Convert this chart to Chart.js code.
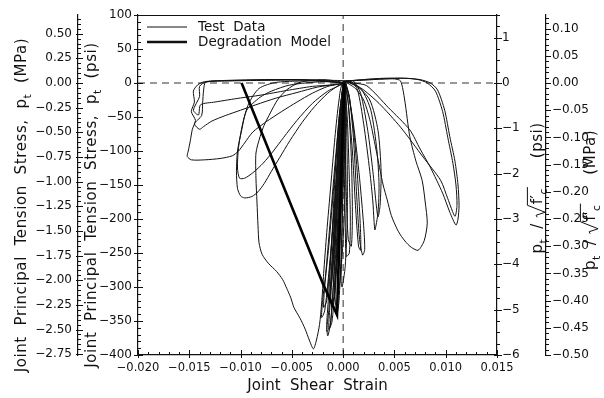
<!DOCTYPE html>
<html>
<head>
<meta charset="utf-8">
<script src="https://cdn.jsdelivr.net/npm/chart.js@4.4.0/dist/chart.umd.min.js"></script>
<style>
html,body{margin:0;padding:0;background:#fff;}
</style>
</head>
<body>
<canvas id="myChart" width="604" height="398"></canvas>
<script>
// axis ranges (psi and psi-based ratio on the main axes, SI on the outer ones)
const strainRange = [-0.020, 0.015];
const stressPsiRange = [-400, 100];
const stressMPaRange = [-2.7579, 0.6895];
const ratioPsiRange = [-6, 1.5];
const ratioMPaRange = [-0.50, 0.125];

// test data as [strain, stress psi]
const coreLoops = [
[-0.0001,-40],[-0.0002,-90],[-0.0004,-150],[-0.0002,-165],[0.0001,-120],[0.0002,-60],[0.0002,-10],[0.0001,2],
[-0.0002,-30],[-0.0004,-100],[-0.0006,-180],[-0.0008,-230],[-0.0005,-240],[-0.0002,-180],[0.0000,-100],[0.0002,-30],[0.0001,3],
[-0.0003,-40],[-0.0006,-120],[-0.0009,-210],[-0.0012,-290],[-0.0013,-320],[-0.0010,-325],[-0.0007,-270],[-0.0004,-180],[-0.0001,-80],[0.0001,-20],[0.0001,3],
[-0.0002,-50],[-0.0005,-130],[-0.0008,-220],[-0.0010,-280],[-0.0009,-300],[-0.0006,-260],[-0.0003,-170],[-0.0001,-80],[0.0001,2],
[-0.0004,-50],[-0.0008,-140],[-0.0011,-230],[-0.0014,-310],[-0.0016,-355],[-0.0015,-372],[-0.0012,-350],[-0.0009,-280],[-0.0006,-190],[-0.0003,-100],[0.0000,-30],[0.0001,2],
[0.0002,-60],[0.0002,-150],[0.0000,-230],[-0.0003,-290],[-0.0005,-310],[-0.0004,-270],[-0.0002,-180],[-0.0001,-90],[0.0001,3],
[-0.0003,-60],[-0.0007,-160],[-0.0010,-260],[-0.0013,-330],[-0.0014,-362],[-0.0011,-352],[-0.0008,-300],[-0.0005,-200],[-0.0002,-100],[0.0001,-20],[0.0002,3],
[0.0003,-40],[0.0004,-120],[0.0004,-200],[0.0002,-270],[-0.0001,-300],[-0.0002,-290],[-0.0001,-220],[0.0000,-120],[0.0001,-40],[0.0001,3],
[-0.0003,-70],[-0.0007,-170],[-0.0011,-270],[-0.0014,-335],[-0.0016,-365],[-0.0013,-360],[-0.0010,-310],[-0.0006,-220],[-0.0003,-120],[0.0000,-40],[0.0001,2],
[-0.0001,-50],[-0.0003,-150],[-0.0006,-250],[-0.0008,-310],[-0.0006,-340],[-0.0004,-320],[-0.0002,-250],[0.0000,-150],[0.0002,-60],[0.0002,2],
[0.0005,-30],[0.0008,-110],[0.0009,-190],[0.0008,-240],[0.0005,-230],[0.0003,-160],[0.0002,-80],[0.0001,2],
[0.0004,-50],[0.0006,-140],[0.0007,-200],[0.0006,-250],[0.0003,-255],[0.0002,-200],[0.0001,-120],[0.0001,-40],[0.0000,3],
[-0.0002,-60],[-0.0006,-170],[-0.0010,-270],[-0.0012,-310],[-0.0011,-330],[-0.0008,-310],[-0.0005,-230],[-0.0002,-130],[0.0000,-40],[0.0001,3],
[-0.0003,-40],[-0.0008,-120],[-0.0013,-210],[-0.0017,-280],[-0.0020,-320],[-0.0021,-345],[-0.0018,-335],[-0.0014,-280],[-0.0009,-190],[-0.0005,-100],[-0.0002,-30],[0.0000,2],
[-0.0001,-40],[-0.0004,-130],[-0.0007,-220],[-0.0009,-265],[-0.0007,-275],[-0.0004,-220],[-0.0001,-120],[0.0001,-30],[0.0001,2],
[-0.0004,-60],[-0.0009,-150],[-0.0014,-240],[-0.0018,-300],[-0.0019,-330],[-0.0016,-320],[-0.0012,-250],[-0.0007,-150],[-0.0003,-60],[0.0001,2]
];
const rightSmallLoops = [
[0.0004,-10],[0.0010,-60],[0.0016,-140],[0.0020,-210],[0.0021,-245],[0.0019,-253],[0.0016,-230],[0.0013,-160],[0.0010,-80],[0.0006,-20],[0.0002,2],
[0.0006,-20],[0.0011,-80],[0.0015,-160],[0.0017,-220],[0.0017,-246],[0.0015,-240],[0.0012,-180],[0.0009,-100],[0.0005,-30],[0.0002,3],
[0.0008,2],[0.0014,-10],[0.0020,-60],[0.0026,-130],[0.0029,-175],[0.0030,-200],[0.0031,-216],[0.0034,-190],[0.0035,-150],[0.0033,-100],[0.0027,-40],[0.0018,-10],[0.0005,2],
[0.0010,3],[0.0017,-15],[0.0024,-70],[0.0029,-130],[0.0032,-175],[0.0034,-197],[0.0036,-180],[0.0037,-130],[0.0034,-70],[0.0026,-25],[0.0012,-2],[0.0003,3]
];
const leftLoops = [
[-0.002,4],[-0.005,5],[-0.008,5],[-0.011,4],[-0.0135,2],[-0.0142,-3],[-0.0146,-12],[-0.0145,-28],[-0.0148,-42],[-0.0144,-55],[-0.0147,-68],[-0.0149,-85],[-0.0151,-100],[-0.0152,-108],[-0.0148,-113],[-0.0135,-113],[-0.0120,-111],[-0.0108,-107],[-0.0102,-100],[-0.0096,-88],[-0.0088,-72],[-0.0075,-57],[-0.0060,-42],[-0.0045,-28],[-0.0030,-15],[-0.0015,-5],[0,0],
[-0.003,4],[-0.007,4],[-0.011,3],[-0.0134,1],[-0.0136,-10],[-0.0137,-30],[-0.0138,-48],[-0.0145,-60],[-0.0140,-68],[-0.0136,-64],[-0.0128,-56],[-0.0115,-48],[-0.0100,-40],[-0.0085,-32],[-0.0065,-22],[-0.0045,-14],[-0.0025,-6],[0,0],
[-0.004,5],[-0.009,4],[-0.0133,2],[-0.0140,-5],[-0.0140,-20],[-0.0146,-40],[-0.0141,-47],[-0.0139,-32],[-0.0125,-28],[-0.0100,-22],[-0.0081,-18],[-0.0055,-11],[-0.0030,-5],[-0.0013,-3],[0,0],
[-0.002,2],[-0.0052,-3],[-0.0070,-12],[-0.0081,-21],[-0.0094,-40],[-0.0099,-70],[-0.0103,-100],[-0.0104,-130],[-0.0103,-155],[-0.0100,-166],[-0.0096,-169],[-0.0089,-167],[-0.0083,-160],[-0.0077,-148],[-0.0070,-130],[-0.0062,-110],[-0.0052,-85],[-0.0040,-58],[-0.0028,-35],[-0.0015,-15],[-0.0004,-3],[0,0],
[-0.003,3],[-0.0065,1],[-0.0082,-8],[-0.0092,-30],[-0.0098,-60],[-0.0102,-95],[-0.0103,-125],[-0.0101,-140],[-0.0096,-140],[-0.0088,-132],[-0.0078,-118],[-0.0068,-100],[-0.0058,-80],[-0.0045,-55],[-0.0030,-30],[-0.0015,-12],[0,0]
];
const deepLoop = [
[-0.002,5],[-0.0042,1],[-0.0055,-10],[-0.0064,-25],[-0.0071,-44],[-0.0077,-62],[-0.0081,-79],[-0.0085,-103],[-0.0085,-140],[-0.0084,-175],[-0.0083,-210],[-0.0082,-235],[-0.0079,-252],[-0.0073,-265],[-0.0065,-277],[-0.0059,-289],[-0.0055,-302],[-0.0051,-316],[-0.0048,-330],[-0.0042,-346],[-0.0037,-362],[-0.0033,-378],[-0.0029,-391],[-0.0026,-378],[-0.0023,-355],[-0.0021,-325],[-0.0019,-280],[-0.0016,-220],[-0.0012,-150],[-0.0008,-80],[-0.0004,-25],[0,0]
];
const rightLoops = [
[0.002,5],[0.004,6],[0.0050,6],[0.0056,3],[0.0060,-25],[0.0065,-79],[0.0071,-115],[0.0077,-143],[0.0080,-175],[0.0082,-206],[0.0079,-232],[0.0073,-246],[0.0065,-240],[0.0058,-228],[0.0053,-216],[0.0047,-195],[0.0043,-172],[0.0039,-150],[0.0036,-128],[0.0031,-90],[0.0026,-54],[0.0020,-25],[0.0012,-8],[0.0003,2],
[0.002,4],[0.004,6],[0.006,7],[0.0075,5],[0.0085,0],[0.0092,-10],[0.0099,-40],[0.0104,-79],[0.0109,-115],[0.0112,-150],[0.0113,-180],[0.0112,-200],[0.0110,-209],[0.0104,-190],[0.0097,-162],[0.0085,-124],[0.0075,-97],[0.0065,-69],[0.0044,-36],[0.0023,-4],[0.0010,0],[0.0002,2],
[0.002,5],[0.004,7],[0.006,7],[0.0073,5],[0.0082,0],[0.0090,-12],[0.0097,-42],[0.0102,-80],[0.0107,-118],[0.0110,-150],[0.0111,-180],[0.0109,-196],[0.0102,-170],[0.0095,-143],[0.0078,-109],[0.0056,-65],[0.0035,-30],[0.0017,-7],[0.0003,2]
];
// degradation model
const modelPath = [[-0.0099,0],[-0.0020,-294],[-0.0006,-341],[0.0001,0]];

const testPath = [[0,0]].concat(coreLoops, rightSmallLoops, leftLoops, deepLoop, rightLoops);
const toXY = arr => arr.map(p => ({x:p[0], y:p[1]}));

const FONT = "'DejaVu Sans', sans-serif";
Chart.defaults.font.family = FONT;
Chart.defaults.color = '#111';

function fmt(v, d){
  if (Math.abs(v) < 1e-9) v = 0;
  return v.toFixed(d).replace('-', '\u2212');
}

// tick marks (major + minor) drawn on the scales
const tickMarks = {
  id:'tickMarks',
  afterDraw(chart){
    const ctx = chart.ctx, ca = chart.chartArea, s = chart.scales;
    ctx.save();
    ctx.strokeStyle = '#111';
    ctx.lineWidth = 1;
    function vt(scale, x0, step, l, r){
      const i0 = Math.ceil(scale.min/step - 1e-6), i1 = Math.floor(scale.max/step + 1e-6);
      for (let i=i0;i<=i1;i++){
        const y = Math.round(scale.getPixelForValue(i*step)) + 0.5;
        ctx.beginPath(); ctx.moveTo(x0-l,y); ctx.lineTo(x0+r,y); ctx.stroke();
      }
    }
    function ht(scale, y0, step, u, d){
      const i0 = Math.ceil(scale.min/step - 1e-6), i1 = Math.floor(scale.max/step + 1e-6);
      for (let i=i0;i<=i1;i++){
        const x = Math.round(scale.getPixelForValue(i*step)) + 0.5;
        ctx.beginPath(); ctx.moveTo(x,y0-u); ctx.lineTo(x,y0+d); ctx.stroke();
      }
    }
    vt(s.y, ca.left, 50, 4, 5);
    vt(s.y, ca.left, 10, 0, 3);
    vt(s.yMPa, s.yMPa.right, 0.25, 2, 5);
    vt(s.yMPa, s.yMPa.right, 0.05, 0, 3);
    vt(s.yR, ca.right, 1, 3, 5);
    vt(s.yR, ca.right, 0.25, 0, 3);
    vt(s.yR2, s.yR2.left, 0.05, 0, 5);
    vt(s.yR2, s.yR2.left, 0.01, 0, 3);
    ht(s.x, ca.bottom, 0.005, 5, 3);
    ht(s.x, ca.bottom, 0.001, 3, 0);
    // top frame line
    ctx.lineWidth = 1.2;
    ctx.beginPath(); ctx.moveTo(ca.left, ca.top+0.5); ctx.lineTo(ca.right, ca.top+0.5); ctx.stroke();
    ctx.restore();
  }
};

// vertical axis titles with subscripts and radical
function drawVertical(ctx, parts, cx, cy, size, spacing){
  ctx.save();
  ctx.translate(cx, cy);
  ctx.rotate(-Math.PI/2);
  ctx.textBaseline = 'alphabetic';
  ctx.textAlign = 'left';
  ctx.fillStyle = '#111';
  ctx.strokeStyle = '#111';
  if ('letterSpacing' in ctx) ctx.letterSpacing = spacing || '0px';
  let w = 0;
  const items = parts.map(p => {
    if (p.gap){ const it = {gap:p.gap, x:w}; w += p.gap; return it; }
    if (p.radical){ const it = {radical:true, x:w, w:p.radical}; w += p.radical; return it; }
    const fs = p.sub ? size*0.72 : size;
    ctx.font = fs + 'px ' + FONT;
    const mw = ctx.measureText(p.t).width;
    const it = {t:p.t, fs:fs, x:w, w:mw, dy:p.sub ? size*0.28 : 0, over:p.over};
    w += mw;
    return it;
  });
  const ox = -w/2, base = size*0.36;
  ctx.lineWidth = 1;
  let ovStart = null, ovEnd = null;
  items.forEach(it => {
    if (it.t){
      ctx.font = it.fs + 'px ' + FONT;
      ctx.fillText(it.t, ox+it.x, base+it.dy);
      if (it.over){ ovEnd = ox+it.x+it.w+1; }
    } else if (it.radical){
      const x0 = ox+it.x;
      ctx.beginPath();
      ctx.moveTo(x0, base-size*0.35);
      ctx.lineTo(x0+2, base-size*0.42);
      ctx.lineTo(x0+5, base+size*0.18);
      ctx.lineTo(x0+it.w-1, base-size*1.0);
      ctx.stroke();
      ovStart = x0+it.w-1;
    }
  });
  if (ovStart !== null && ovEnd !== null){
    ctx.beginPath();
    ctx.moveTo(ovStart, base-size*1.0);
    ctx.lineTo(ovEnd, base-size*1.0);
    ctx.stroke();
  }
  ctx.restore();
}

const axisTitles = {
  id:'axisTitles',
  afterDraw(chart){
    const ctx = chart.ctx;
    const lt = unit => [{t:'Joint  Principal  Tension  Stress,  p'},{t:'t',sub:1},{t:'  (' + unit + ')'}];
    const rt = unit => [{t:'p'},{t:'t',sub:1},{gap:10},{t:'/'},{gap:6},{radical:13},{t:'f\u2032',over:1},{t:'c',sub:1,over:1},{gap:30},{t:'(' + unit + ')'}];
    drawVertical(ctx, lt('MPa'), 21, 205, 15, '0.6px');
    drawVertical(ctx, lt('psi'), 91, 205, 15, '0.6px');
    drawVertical(ctx, rt('psi'), 537, 188, 15, '0.5px');
    drawVertical(ctx, rt('MPa'), 590, 200, 15, '0.5px');
  }
};

// legend inside the plot
const insideLegend = {
  id:'insideLegend',
  afterDraw(chart){
    const ctx = chart.ctx, ca = chart.chartArea;
    const x0 = ca.left + 9;
    ctx.save();
    ctx.strokeStyle = '#111';
    ctx.fillStyle = '#111';
    ctx.font = '13.5px ' + FONT;
    ctx.textBaseline = 'middle';
    const rows = [['Test  Data', 1, 12], ['Degradation  Model', 2.6, 27]];
    rows.forEach(r => {
      ctx.lineWidth = r[1];
      ctx.beginPath(); ctx.moveTo(x0, ca.top+r[2]); ctx.lineTo(x0+40, ca.top+r[2]); ctx.stroke();
      ctx.fillText(r[0], x0+51, ca.top+r[2]);
    });
    ctx.restore();
  }
};

const ctx = document.getElementById('myChart');

const chart = new Chart(ctx, {
  type:'scatter',
  data:{
    datasets:[
      {
        label:'Degradation Model',
        data:toXY(modelPath),
        showLine:true, borderColor:'#000', borderWidth:2.6,
        pointRadius:0, tension:0, order:0
      },
      {
        label:'Test Data',
        data:toXY(testPath),
        showLine:true, borderColor:'#111', borderWidth:1,
        pointRadius:0, tension:0.25, order:1
      },
      {
        label:'zero strain',
        data:[{x:0,y:stressPsiRange[0]},{x:0,y:stressPsiRange[1]}],
        showLine:true, borderColor:'#333', borderWidth:1, borderDash:[7,5],
        pointRadius:0, order:2
      },
      {
        label:'zero stress',
        data:[{x:strainRange[0],y:0},{x:strainRange[1],y:0}],
        showLine:true, borderColor:'#333', borderWidth:1, borderDash:[7,5],
        pointRadius:0, order:2
      }
    ]
  },
  options:{
    responsive:false,
    animation:false,
    layout:{padding:{top:15,right:0,bottom:0,left:0}},
    plugins:{legend:{display:false}, tooltip:{enabled:false}},
    scales:{
      x:{
        type:'linear', position:'bottom',
        min:strainRange[0], max:strainRange[1],
        afterFit:s=>{s.height=43;},
        border:{display:true,color:'#111',width:1.2},
        grid:{display:false,drawTicks:false},
        ticks:{stepSize:0.005, autoSkip:false, maxRotation:0, maxTicksLimit:50, padding:6, font:{size:11.5}, callback:v=>fmt(v,3)},
        title:{display:true, text:'Joint  Shear  Strain', font:{size:15}, padding:{top:0,bottom:3}}
      },
      y:{
        type:'linear', position:'left', weight:1,
        min:stressPsiRange[0], max:stressPsiRange[1],
        afterFit:s=>{s.width=60;},
        border:{display:true,color:'#111',width:1.2},
        grid:{display:false,drawTicks:false},
        ticks:{stepSize:50, autoSkip:false, maxTicksLimit:50, padding:6, font:{size:12}, callback:v=>fmt(v,0)}
      },
      yMPa:{
        type:'linear', position:'left', weight:2,
        min:stressMPaRange[0], max:stressMPaRange[1],
        afterFit:s=>{s.width=78;},
        border:{display:true,color:'#111',width:1.2},
        grid:{display:false,drawTicks:false},
        ticks:{stepSize:0.25, includeBounds:false, autoSkip:false, maxTicksLimit:50, padding:6, font:{size:12}, callback:v=>fmt(v,2)}
      },
      yR:{
        type:'linear', position:'right', weight:1,
        min:ratioPsiRange[0], max:ratioPsiRange[1],
        afterFit:s=>{s.width=49;},
        border:{display:true,color:'#111',width:1.2},
        grid:{display:false,drawTicks:false},
        ticks:{stepSize:1, includeBounds:false, autoSkip:false, maxTicksLimit:50, padding:5, font:{size:12}, callback:v=>fmt(v,0)}
      },
      yR2:{
        type:'linear', position:'right', weight:2,
        min:ratioMPaRange[0], max:ratioMPaRange[1],
        afterFit:s=>{s.width=58;},
        border:{display:true,color:'#111',width:1.2},
        grid:{display:false,drawTicks:false},
        ticks:{stepSize:0.05, includeBounds:false, autoSkip:false, maxTicksLimit:50, padding:6, font:{size:12}, callback:v=>fmt(v,2)}
      }
    }
  },
  plugins:[tickMarks, axisTitles, insideLegend]
});
</script>
</body>
</html>
